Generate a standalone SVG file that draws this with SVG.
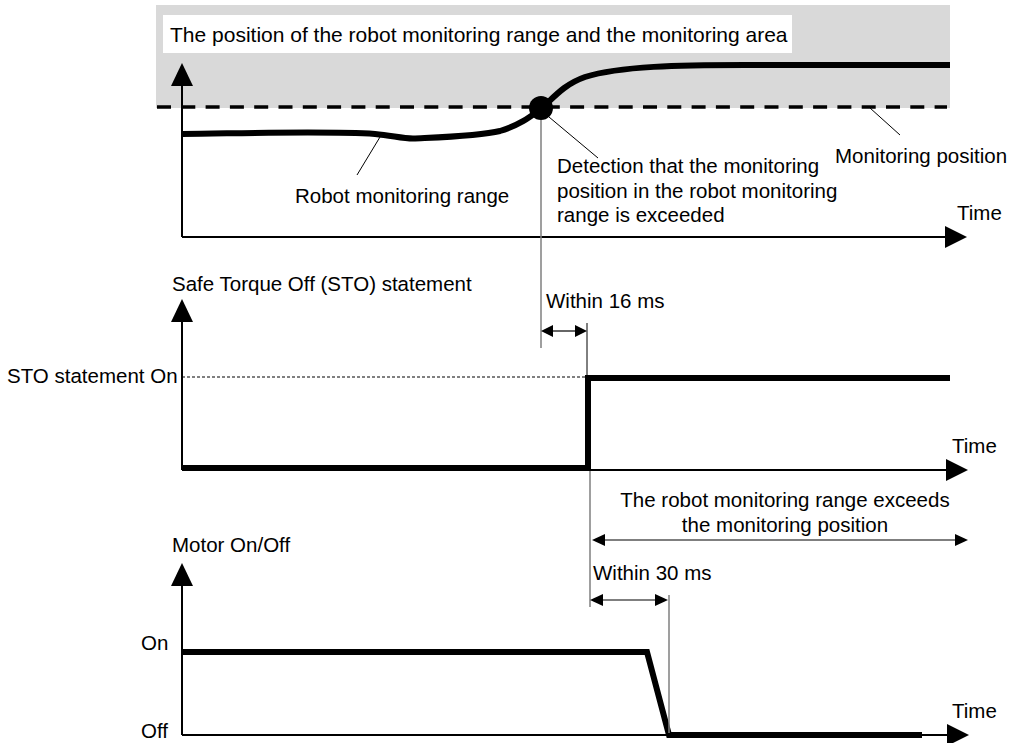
<svg xmlns="http://www.w3.org/2000/svg" width="1011" height="743" viewBox="0 0 1011 743">
<defs>
<style>
text{font-family:"Liberation Sans",Arial,sans-serif;font-size:20.5px;fill:#000}
.ax{stroke:#000;stroke-width:2;fill:none}
.thick{stroke:#000;stroke-width:6;fill:none;stroke-linejoin:miter}
.thin{stroke:#000;stroke-width:1;fill:none}
.gray{stroke:#7f7f7f;stroke-width:1.5;fill:none}
.dim{stroke:#000;stroke-width:1.2;fill:none}
.ah{fill:#000}
</style>
</defs>
<rect x="0" y="0" width="1011" height="743" fill="#fff"/>
<g id="area">
<rect x="156" y="5" width="794" height="103" fill="#d9d9d9"/>
<rect x="163" y="15" width="629" height="38" fill="#fff"/>
<text x="170" y="42" style="font-size:21px">The position of the robot monitoring range and the monitoring area</text>
</g>
<g id="panel1">
<line class="ax" x1="182" y1="237" x2="182" y2="84"/>
<polygon class="ah" points="182,63 171,86 193,86"/>
<line class="ax" x1="182" y1="237" x2="947" y2="237"/>
<polygon class="ah" points="967,237 945,226 945,248"/>
<text x="957" y="220">Time</text>
<line x1="157" y1="107" x2="947" y2="107" stroke="#000" stroke-width="3.5" stroke-dasharray="14 10.3"/>
<path class="thick" d="M182,134 C260,133 330,131 375,134 C392,135.5 402,138.5 413,138.5 C445,137 480,136 500,131 C520,125 530,117 542,108 C555,96 565,84 585,77 C620,66 680,65 745,65 L950,65"/>
<circle cx="541" cy="108" r="12" fill="#000"/>
<line class="thin" x1="380" y1="137" x2="357" y2="175"/>
<text x="295" y="203">Robot monitoring range</text>
<line class="thin" x1="549" y1="117" x2="598" y2="158"/>
<text x="557" y="173">Detection that the monitoring</text>
<text x="557" y="198">position in the robot monitoring</text>
<text x="557" y="222">range is exceeded</text>
<line class="thin" x1="870" y1="108" x2="900" y2="135"/>
<text x="835" y="163">Monitoring position</text>
</g>
<g id="panel2">
<text x="172" y="291">Safe Torque Off (STO) statement</text>
<line class="ax" x1="182" y1="470" x2="182" y2="320"/>
<polygon class="ah" points="182,299 171,322 193,322"/>
<line class="ax" x1="182" y1="470" x2="947" y2="470"/>
<polygon class="ah" points="968,470 946,459 946,481"/>
<text x="952" y="453">Time</text>
<text x="7" y="383">STO statement On</text>
<line x1="182" y1="377" x2="587" y2="377" stroke="#000" stroke-width="1" stroke-dasharray="3 2"/>
<polyline class="thick" points="182,468 588,468 588,378 950,378"/>
</g>
<g id="panel3">
<text x="172" y="552">Motor On/Off</text>
<line class="ax" x1="182" y1="735" x2="182" y2="583"/>
<polygon class="ah" points="182,563 171,586 193,586"/>
<line class="ax" x1="182" y1="735" x2="949" y2="735"/>
<polygon class="ah" points="969,735 947,724 947,746"/>
<text x="952" y="718">Time</text>
<text x="141" y="650">On</text>
<text x="141" y="738">Off</text>
<polyline class="thick" points="182,652 647,652 669,735 922,735"/>
</g>
<g id="connectors">
<line class="gray" x1="541" y1="120" x2="541" y2="348"/>
<line class="thin" x1="587" y1="323" x2="587" y2="376"/>
<line class="dim" x1="550" y1="331" x2="578" y2="331"/>
<polygon class="ah" points="541,331 553,325 553,337"/>
<polygon class="ah" points="587,331 575,325 575,337"/>
<text x="546" y="308">Within 16 ms</text>
<line class="gray" x1="590" y1="471" x2="590" y2="607"/>
<line class="dim" x1="602" y1="540" x2="956" y2="540"/>
<polygon class="ah" points="592,540 605,534 605,546"/>
<polygon class="ah" points="968,540 955,534 955,546"/>
<text x="785" y="507" text-anchor="middle">The robot monitoring range exceeds</text>
<text x="785" y="532" text-anchor="middle">the monitoring position</text>
<line class="dim" x1="600" y1="600" x2="658" y2="600"/>
<polygon class="ah" points="590,600 603,594 603,606"/>
<polygon class="ah" points="668,600 655,594 655,606"/>
<line class="gray" x1="669" y1="595" x2="669" y2="733"/>
<text x="593" y="580">Within 30 ms</text>
</g>
</svg>
